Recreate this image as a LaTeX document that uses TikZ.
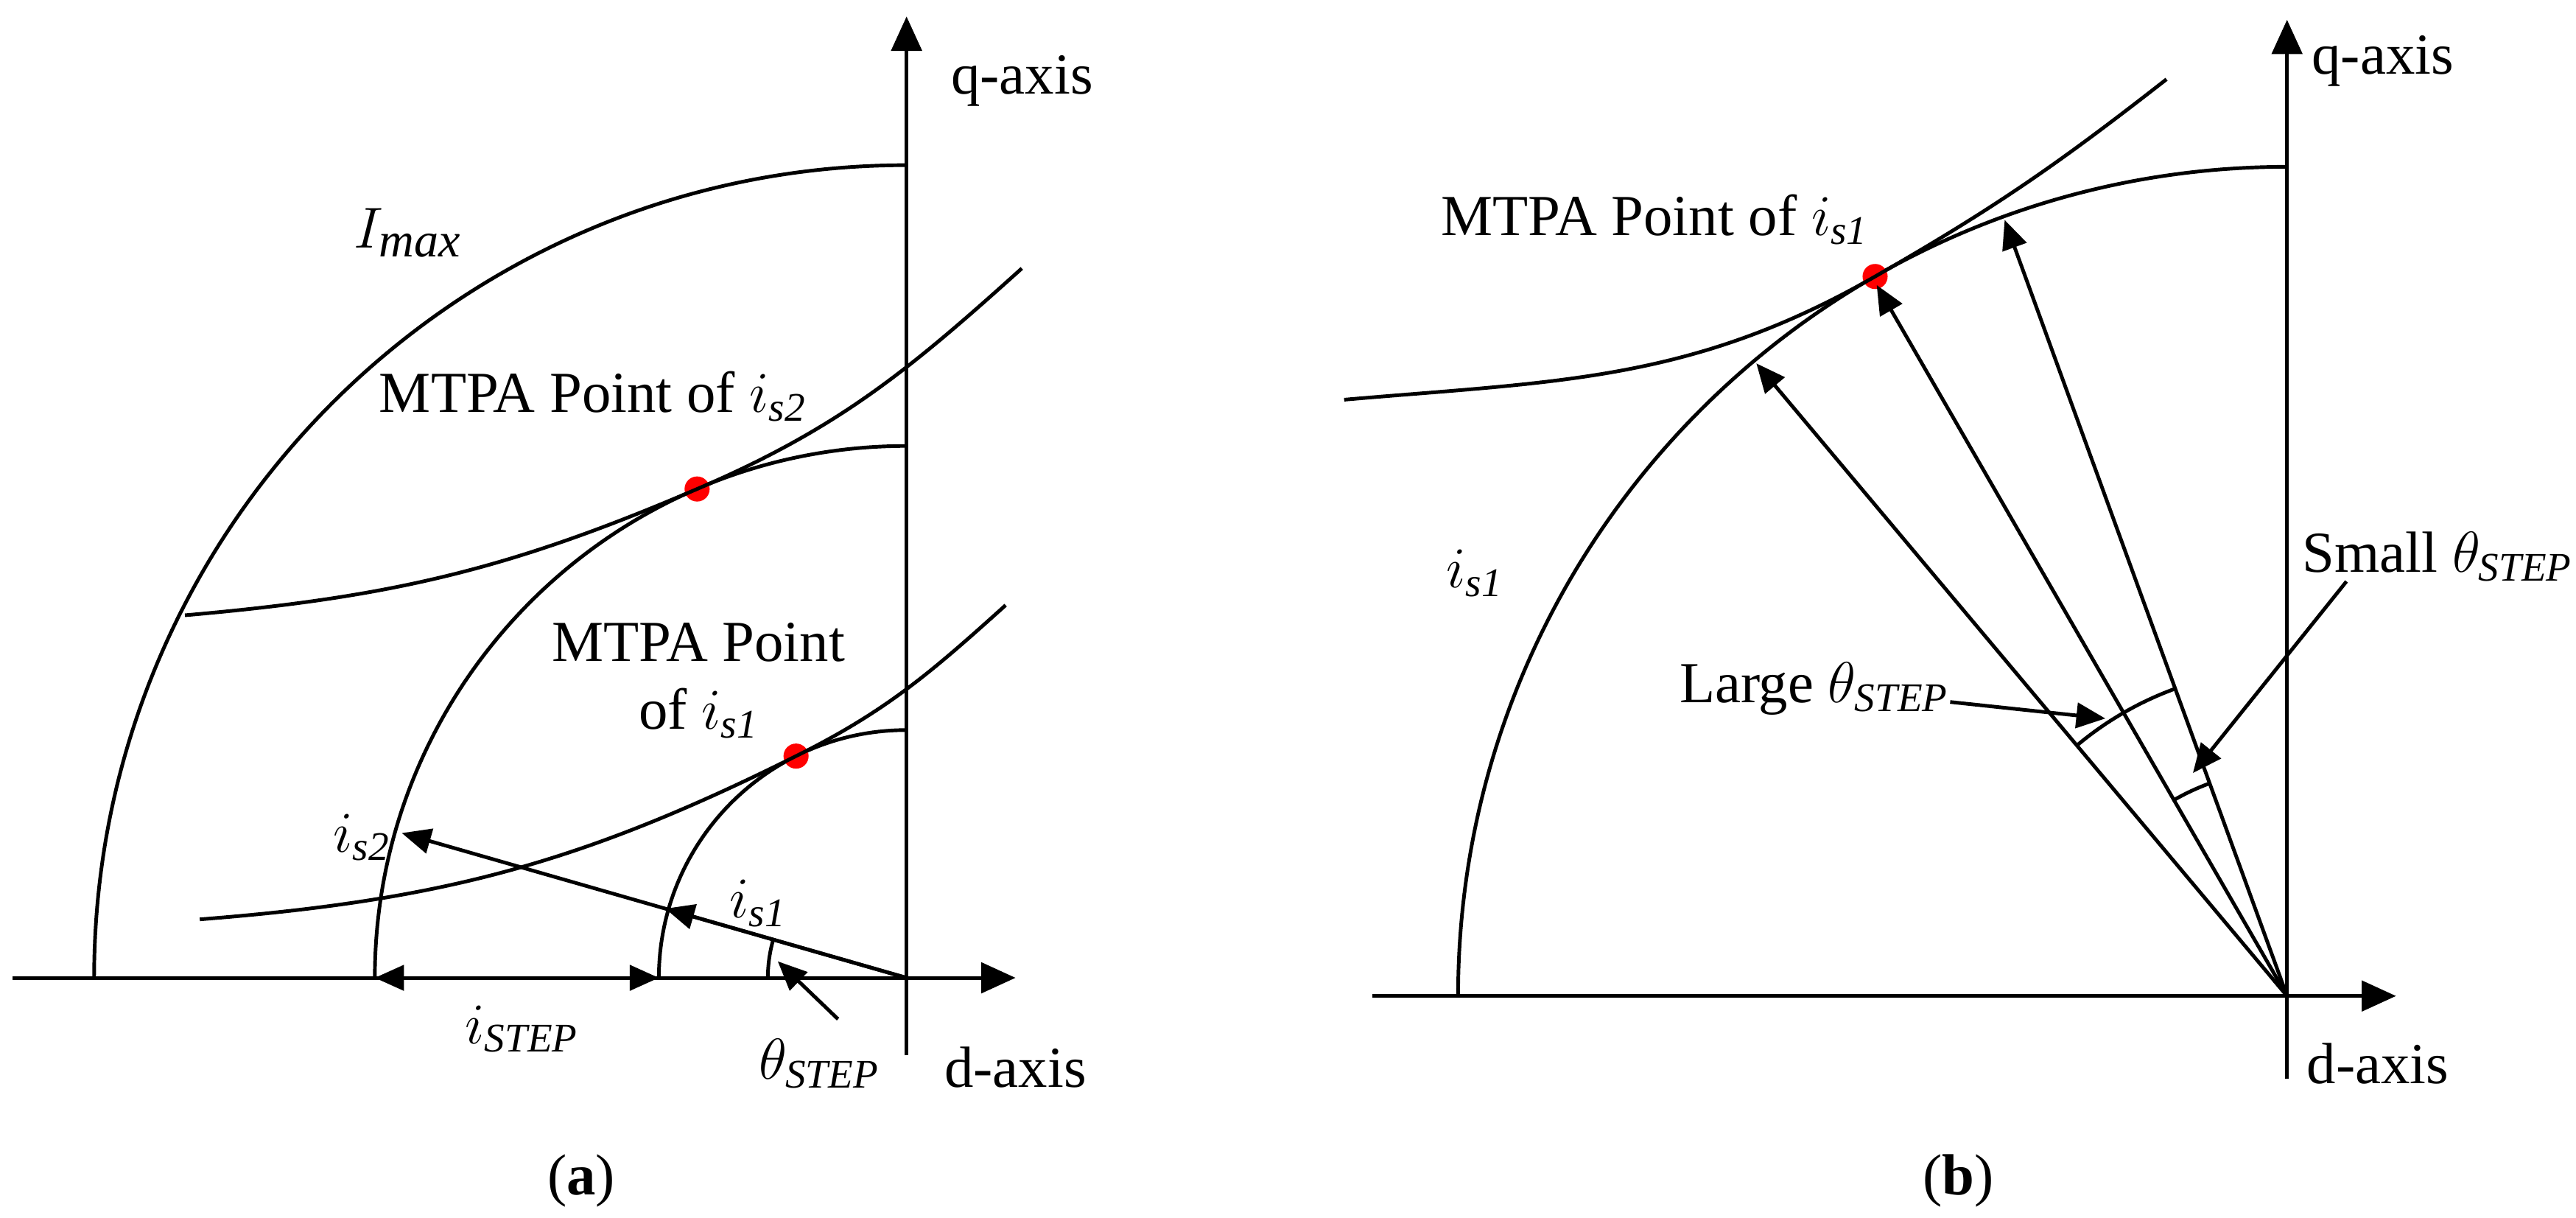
\documentclass[tikz,border=0pt]{standalone}
\usepackage{fontspec}
\setmainfont{Liberation Serif}
\usetikzlibrary{arrows.meta}
\begin{document}
\begin{tikzpicture}[x=0.25mm,y=0.25mm,line width=0.55mm,
  axis/.style={-{Triangle[length=5.2mm,width=4.6mm]}},
  vec/.style={-{Triangle[length=4.4mm,width=3.8mm]}},
  lbl/.style={font=\fontsize{25}{27}\selectfont, inner sep=0pt},
  dot/.style={circle,fill=red,draw=none,minimum size=3.8mm,inner sep=0pt}]
\useasboundingbox (0,0) rectangle (1560,737);
% ---------------- panel (a)
\begin{scope}[shift={(549,145)}]
\coordinate (Oa) at (0,0);
\draw (-541.5,0) -- (0,0);
\draw[axis] (0,0) -- (66,0);
\draw[axis] (0,-47) -- (0,582);
\draw (-492,0) arc[start angle=180,end angle=90,radius=492];
\draw (-322,0) arc[start angle=180,end angle=90,radius=322];
\draw (-150,0) arc[start angle=180,end angle=90,radius=150];
\node[dot] (da2) at (113.2:322) {};
\node[dot] (da1) at (116.5:150) {};
\coordinate (ua0) at (-437,219.5);
\coordinate (ua1) at (69.8,429.5);
\coordinate (la0) at (-428,35.4);
\coordinate (la1) at (60,225.6);
\draw (ua0) to[out=5,in=203.2] (da2.center) to[out=23.2,in=222] (ua1);
\draw (la0) to[out=4.5,in=206.5] (da1.center) to[out=26.5,in=222] (la1);
\coordinate (is2) at (164:318);
\coordinate (is1) at (164:152);
\draw[vec] (Oa) -- (is2);
\draw[vec] (Oa) -- (is1);
\draw (-84,0) arc[start angle=180,end angle=164,radius=84];
\coordinate (tha) at (-41.5,-25);
\coordinate (thb) at (-78,10);
\draw[vec] (tha) -- (thb);
\coordinate (st0) at (-322,0);
\coordinate (st1) at (-150,0);
\draw[{Triangle[length=4.4mm,width=3.8mm]}-{Triangle[length=4.4mm,width=3.8mm]}] (st0) -- (st1);
\node[lbl] (qa) at (70,543) {q-axis};
\node[lbl] (dax) at (66,-54) {d-axis};
\node[lbl] (imax) at (-302,451) {\fontsize{30}{32}\selectfont$I_{\mathit{max}}$};
\node[lbl] (m2) at (-190,352) {MTPA Point of $i_{\mathit{s2}}$};
\node[lbl] (m1a) at (-126,203) {MTPA Point};
\node[lbl] (m1b) at (-126,160) {of $i_{\mathit{s1}}$};
\node[lbl] (l2) at (-330,85) {$i_{\mathit{s2}}$};
\node[lbl] (l1) at (-90,45) {$i_{\mathit{s1}}$};
\node[lbl] (lstep) at (-233,-31) {$i_{\mathit{STEP}}$};
\node[lbl] (lth) at (-53,-52) {$\theta_{\mathit{STEP}}$};
\node[lbl] (capa) at (-197,-123) {(\textbf{a})};
\end{scope}
% ---------------- panel (b)
\begin{scope}[shift={(1385,134)}]
\coordinate (Ob) at (0,0);
\draw (-554,0) -- (0,0);
\draw[axis] (0,0) -- (66,0);
\draw[axis] (0,-50) -- (0,591);
\draw (-502,0) arc[start angle=180,end angle=90,radius=502];
\node[dot] (db) at (119.8:502) {};
\coordinate (ub0) at (-571,361);
\coordinate (ub1) at (-73,555);
\draw (ub0) to[out=5,in=209.8] (db.center) to[out=29.8,in=218] (ub1);
\coordinate (v1) at (130:500);
\coordinate (v2) at (120:497);
\coordinate (v3) at (110:500);
\draw[vec] (Ob) -- (v1);
\draw[vec] (Ob) -- (v2);
\draw[vec] (Ob) -- (v3);
\draw (130:198) arc[start angle=130,end angle=110,radius=198];
\draw (120:137) arc[start angle=120,end angle=110,radius=137];
\coordinate (p1) at (-204,178);
\coordinate (p1t) at (-110,168);
\draw[vec] (p1) -- (p1t);
\coordinate (p2) at (36,251);
\coordinate (p2t) at (-57,135);
\draw[vec] (p2) -- (p2t);
\node[lbl] (qb) at (58,566) {q-axis};
\node[lbl] (dbx) at (55,-41) {d-axis};
\node[lbl] (mb) at (-383,470) {MTPA Point of $i_{\mathit{s1}}$};
\node[lbl] (lb1) at (-492,256) {$i_{\mathit{s1}}$};
\node[lbl,anchor=east] (large) at (-204,186) {Large $\theta_{\mathit{STEP}}$};
\node[lbl] (small) at (91,266) {Small $\theta_{\mathit{STEP}}$};
\node[lbl] (capb) at (-199,-112) {(\textbf{b})};
\end{scope}
\end{tikzpicture}
\end{document}
